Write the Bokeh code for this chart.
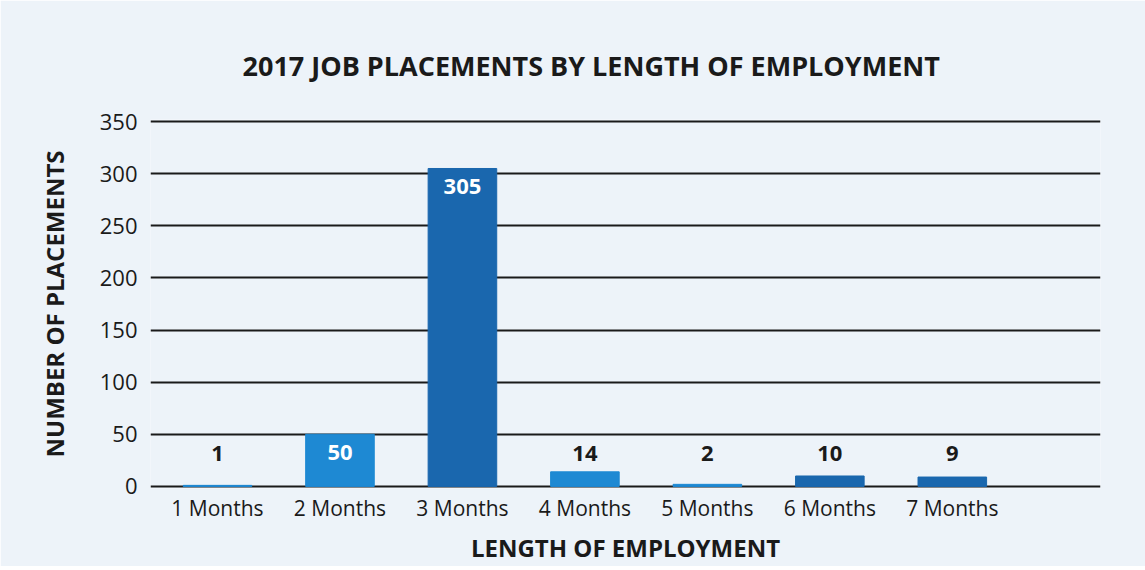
from bokeh.plotting import figure
from bokeh.models import ColumnDataSource, FixedTicker, Range1d
from bokeh.core.properties import value
from bokeh.embed import file_html
from bokeh.resources import INLINE

categories = ["1 Months", "2 Months", "3 Months", "4 Months", "5 Months", "6 Months", "7 Months"]
placements = [1, 50, 305, 14, 2, 10, 9]
bar_colors = ["#1e89d3", "#1e89d3", "#1a67ae", "#1e89d3", "#1e89d3", "#1a67ae", "#1a67ae"]
y_ticks = [0, 50, 100, 150, 200, 250, 300, 350]

FONT = "Open Sans"
INK = "#1a1a1a"
positions = list(range(1, len(categories) + 1))
inside = [v >= 40 for v in placements]
label_y = [v - 17 if ins else 32 for v, ins in zip(placements, inside)]
label_color = ["white" if ins else INK for ins in inside]
source = ColumnDataSource(dict(
    x=positions, top=placements, color=bar_colors,
    label=[str(v) for v in placements], ly=label_y, lc=label_color,
))

p = figure(width=1145, height=566, output_backend="svg", toolbar_location=None,
           x_range=Range1d(0.453, 8.21), y_range=Range1d(-2, 352),
           min_border_left=150, min_border_right=45, min_border_top=119, min_border_bottom=78)

p.title.text = "2017 JOB PLACEMENTS BY LENGTH OF EMPLOYMENT"
p.title.text_font = FONT
p.title.text_font_size = "27px"
p.title.text_font_style = "bold"
p.title.text_color = INK
p.title.align = "left"
p.title.offset = 92
p.title.standoff = 71

p.background_fill_color = "#edf3f9"
p.border_fill_color = "#edf3f9"
p.outline_line_color = None

p.vbar(x="x", top="top", width=0.56, color="color", source=source)
p.text(x="x", y="ly", text="label", text_color="lc", source=source,
       text_align="center", text_baseline="middle",
       text_font=value(FONT), text_font_size="22px", text_font_style="bold")

# axes
p.xaxis.ticker = FixedTicker(ticks=positions)
p.xaxis.major_label_overrides = {pos: c for pos, c in zip(positions, categories)}
p.yaxis.ticker = FixedTicker(ticks=y_ticks)
for ax in (p.xaxis[0], p.yaxis[0]):
    ax.axis_line_color = None
    ax.major_tick_line_color = None
    ax.minor_tick_line_color = None
    ax.major_tick_in = 0
    ax.major_tick_out = 0
    ax.minor_tick_in = 0
    ax.minor_tick_out = 0
    ax.major_label_text_font = FONT
    ax.major_label_text_color = INK
    ax.axis_label_text_font = FONT
    ax.axis_label_text_font_size = "24px"
    ax.axis_label_text_font_style = "bold"
    ax.axis_label_text_color = INK

p.xaxis.major_label_text_font_size = "21px"
p.yaxis.major_label_text_font_size = "22px"
p.xaxis.axis_label = "LENGTH OF EMPLOYMENT"
p.xaxis.major_label_standoff = 5
p.xaxis.axis_label_standoff = 6
p.yaxis.axis_label = "NUMBER OF PLACEMENTS"
p.yaxis.major_label_standoff = 13
p.yaxis.axis_label_standoff = 26

p.xgrid.grid_line_color = None
p.ygrid.grid_line_color = INK
p.ygrid.grid_line_width = 2
p.ygrid.ticker = FixedTicker(ticks=y_ticks)

open("out.html", "w").write(file_html(p, INLINE))
